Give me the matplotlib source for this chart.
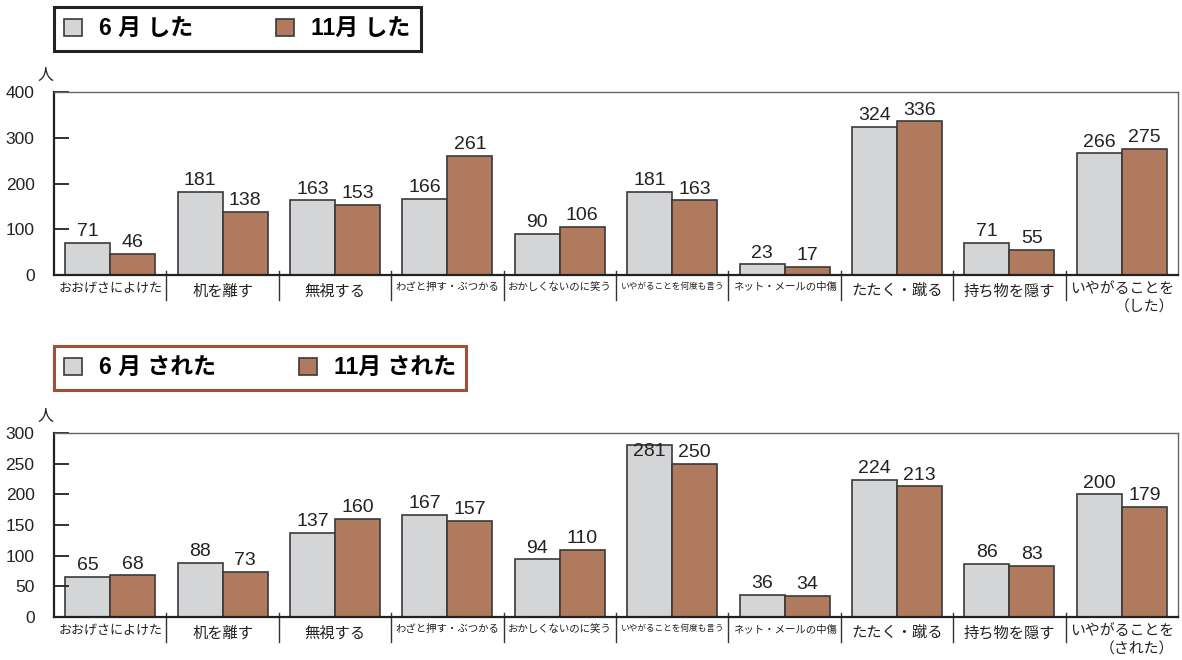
import matplotlib
matplotlib.use('Agg')
import matplotlib.pyplot as plt
import matplotlib.transforms as mtransforms
from matplotlib.patches import Patch
import numpy as np

plt.rcParams['font.family'] = ['Liberation Sans', 'Noto Sans CJK JP', 'DejaVu Sans']

categories = ['おおげさによけた', '机を離す', '無視する', 'わざと押す・ぶつかる',
              'おかしくないのに笑う', 'いやがることを何度も言う', 'ネット・メールの中傷',
              'たたく・蹴る', '持ち物を隠す']
last_cat_top = 'いやがることを\n（した）'
last_cat_bottom = 'いやがることを\n（された）'

did_jun = [71, 181, 163, 166, 90, 181, 23, 324, 71, 266]
did_nov = [46, 138, 153, 261, 106, 163, 17, 336, 55, 275]
got_jun = [65, 88, 137, 167, 94, 281, 36, 224, 86, 200]
got_nov = [68, 73, 160, 157, 110, 250, 34, 213, 83, 179]

legend_top = ['6 月 した', '11月 した']
legend_bottom = ['6 月 された', '11月 された']
yticks_top = [0, 100, 200, 300, 400]
yticks_bottom = [0, 50, 100, 150, 200, 250, 300]

GRAY = '#D4D5D7'
BROWN = '#B07A5E'
EDGE = '#3a3a3a'
JP = ['Noto Sans CJK JP', 'DejaVu Sans']


def draw_panel(ax, jun, nov, labels, yticks):
    n = len(jun)
    x = np.arange(n)
    w = 0.4
    ymax = yticks[-1]
    b1 = ax.bar(x - w / 2, jun, w, color=GRAY, edgecolor=EDGE, linewidth=1.2)
    b2 = ax.bar(x + w / 2, nov, w, color=BROWN, edgecolor=EDGE, linewidth=1.2)
    for bars, vals in ((b1, jun), (b2, nov)):
        for rect, v in zip(bars, vals):
            cx = rect.get_x() + rect.get_width() / 2
            if v > ymax * 0.9:
                ax.annotate(str(v), (cx, v), xytext=(0, 1.5), textcoords='offset points',
                            ha='center', va='top', fontsize=14, color='#222')
            else:
                ax.annotate(str(v), (cx, v), xytext=(0, 2), textcoords='offset points',
                            ha='center', va='bottom', fontsize=14, color='#222')

    ax.set_xlim(-0.5, n - 0.5)
    ax.set_ylim(0, ymax)
    ax.set_yticks(yticks)
    ax.tick_params(axis='y', direction='in', length=11, width=1.3, pad=14,
                   labelsize=12.5, colors='#222')
    ax.set_xticks([])

    for side in ('top', 'right'):
        ax.spines[side].set_color('#666')
        ax.spines[side].set_linewidth(1.0)
    for side in ('left', 'bottom'):
        ax.spines[side].set_color('#222')
        ax.spines[side].set_linewidth(1.6)

    # group separators under the axis
    trans = mtransforms.blended_transform_factory(ax.transData, ax.transAxes)
    for b in np.arange(0.5, n - 1, 1.0):
        ax.plot([b, b], [0.02, -0.135], transform=trans, color='#333',
                lw=1.0, clip_on=False)

    # category labels
    for i, lab in enumerate(labels):
        first = lab.split('\n')[0]
        fs = min(11, 75.0 / len(first))
        ax.text(i, -0.04, lab, transform=trans, ha='center', va='top',
                fontsize=fs, color='#222', multialignment='right',
                family=JP, linespacing=1.35)

    ax.text(-0.008, 1.045, '人', transform=ax.transAxes, ha='center', va='bottom',
            fontsize=11.5, color='#222', family=JP)


def draw_legend(fig, labels, y_top, edge):
    handles = [Patch(facecolor=GRAY, edgecolor=EDGE, linewidth=1.2),
               Patch(facecolor=BROWN, edgecolor=EDGE, linewidth=1.2)]
    leg = fig.legend(handles, labels, loc='upper left',
                     bbox_to_anchor=(54 / 1182, 1 - y_top / 660), ncol=2,
                     frameon=True, fancybox=False,
                     prop={'weight': 'bold', 'size': 16.5,
                           'family': ['Liberation Sans', 'Noto Sans CJK JP']},
                     handlelength=0.78, handleheight=0.78, handletextpad=0.75,
                     columnspacing=3.6, borderpad=0.45, borderaxespad=0)
    fr = leg.get_frame()
    fr.set_edgecolor(edge)
    fr.set_linewidth(2.2)
    fr.set_alpha(1)
    return leg


fig = plt.figure(figsize=(11.82, 6.6), dpi=100)
ax1 = fig.add_axes([54 / 1182, 385 / 660, 1124 / 1182, 183 / 660])
ax2 = fig.add_axes([54 / 1182, 43 / 660, 1124 / 1182, 184 / 660])

draw_panel(ax1, did_jun, did_nov, categories + [last_cat_top], yticks_top)
draw_panel(ax2, got_jun, got_nov, categories + [last_cat_bottom], yticks_bottom)

draw_legend(fig, legend_top, 7, '#222')
draw_legend(fig, legend_bottom, 346, '#A0503A')

fig.savefig('out.png', dpi=100)
